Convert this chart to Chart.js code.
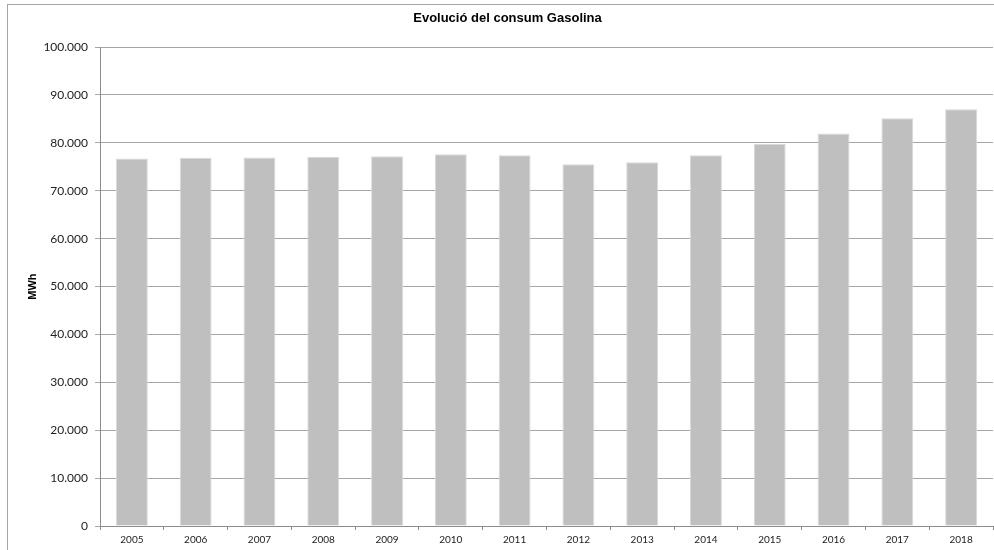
<!DOCTYPE html>
<html>
<head>
<meta charset="utf-8">
<script src="https://cdn.jsdelivr.net/npm/chart.js@4/dist/chart.umd.min.js"></script>
<style>
  html, body { margin: 0; padding: 0; background: #fff; overflow: hidden; }
  #frame { position: absolute; left: 7px; top: 4px; width: 1100px; height: 700px; border: 1px solid #a6a6a6; }
  #grafico { position: absolute; left: 0; top: 0; }
</style>
</head>
<body>
<div id="frame"></div>
<canvas id="grafico" width="994" height="550"></canvas>
<script>
const anys = ['2005', '2006', '2007', '2008', '2009', '2010', '2011', '2012', '2013', '2014', '2015', '2016', '2017', '2018'];
const consumMWh = [76750, 76870, 76950, 77080, 77230, 77640, 77440, 75560, 75980, 77440, 79800, 81950, 85150, 87020];
const titol = 'Evolució del consum Gasolina';
const unitat = 'MWh';

function formatMiles(v) {
    return String(v).replace(/\B(?=(\d{3})+(?!\d))/g, '.');
}

document.addEventListener('DOMContentLoaded', function () {
    const ctx = document.getElementById('grafico').getContext('2d');
    new Chart(ctx, {
        type: 'bar',
        data: {
            labels: anys,
            datasets: [{
                label: unitat,
                data: consumMWh,
                backgroundColor: '#bfbfbf',
                borderColor: '#d9d9d9',
                borderWidth: 1,
                barPercentage: 0.5,
                categoryPercentage: 1
            }]
        },
        options: {
            responsive: false,
            animation: false,
            layout: { padding: { left: 22, right: 1, top: 0, bottom: 0 } },
            plugins: {
                legend: { display: false },
                tooltip: { enabled: false },
                title: {
                    display: true,
                    text: titol,
                    color: '#000',
                    font: { family: 'Liberation Sans, Arial', size: 13, weight: 'bold' },
                    padding: { top: 11, bottom: 20.5 }
                }
            },
            scales: {
                x: {
                    grid: { offset: true, drawOnChartArea: false, tickLength: 4, color: '#8c8c8c' },
                    border: { color: '#8c8c8c' },
                    ticks: { color: '#222', font: { family: 'Lato, Liberation Sans', size: 10 }, padding: 4, maxRotation: 0 },
                    afterFit: function (s) { s.height = 24; }
                },
                y: {
                    min: 0,
                    max: 100000,
                    ticks: {
                        stepSize: 10000,
                        color: '#222',
                        font: { family: 'Lato, Liberation Sans', size: 12 },
                        padding: 7,
                        callback: function (v) { return formatMiles(v); }
                    },
                    grid: { color: '#a6a6a6', tickLength: 5 },
                    border: { color: '#8c8c8c' },
                    title: {
                        display: true,
                        text: unitat,
                        color: '#000',
                        font: { family: 'Liberation Sans, Arial', size: 11, weight: 'bold' },
                        padding: { top: 4, bottom: 0 }
                    },
                    afterFit: function (s) { s.width = 78; }
                }
            }
        }
    });
});
</script>
</body>
</html>
